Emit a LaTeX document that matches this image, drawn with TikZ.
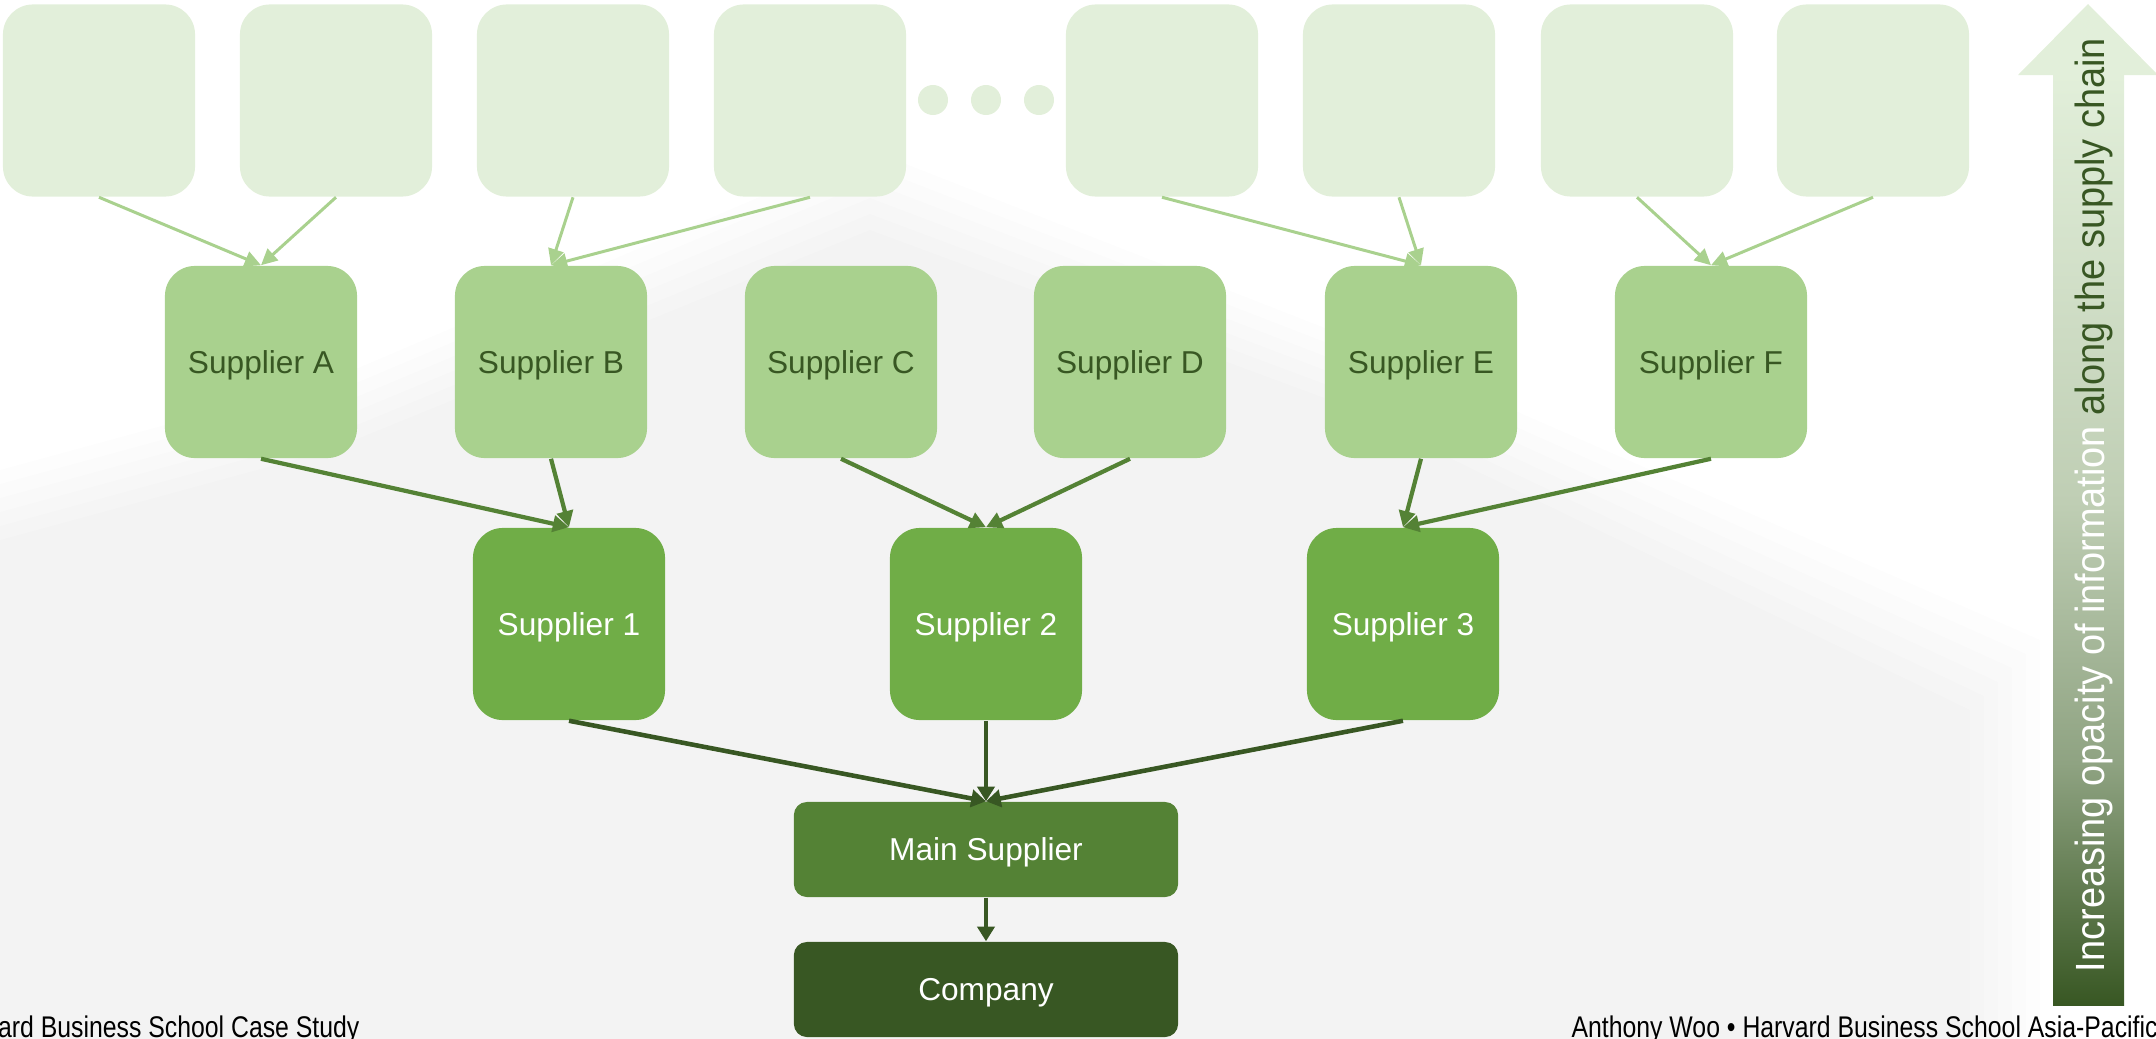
\documentclass[tikz,border=0pt]{standalone}
\usepackage{fontspec}
\setmainfont{Liberation Sans}
\usetikzlibrary{arrows.meta}

\definecolor{tierfour}{HTML}{E2EFDA}
\definecolor{tierthree}{HTML}{A9D18E}
\definecolor{tiertwo}{HTML}{70AD47}
\definecolor{tierone}{HTML}{548235}
\definecolor{companygreen}{HTML}{385723}
\definecolor{rampmidlow}{HTML}{8FA382}
\definecolor{rampmidhigh}{HTML}{BFCEB4}

% gradient of the opacity arrow: dark at the bottom, pale at the top
\pgfdeclareverticalshading{opacityramp}{100bp}{%
  color(0bp)=(companygreen); color(25bp)=(companygreen);
  color(38bp)=(rampmidlow); color(52bp)=(rampmidhigh);
  color(75bp)=(tierfour); color(100bp)=(tierfour)}

\tikzset{
  box/.style={rectangle, rounded corners=0.3cm, inner sep=0pt,
    minimum width=1.92cm, minimum height=1.92cm, draw=none,
    text depth=0pt, font=\fontsize{9}{11}\selectfont},
  unknownbox/.style={box, fill=tierfour},
  tierthreebox/.style={box, fill=tierthree, text=companygreen},
  tiertwobox/.style={box, fill=tiertwo, text=white},
  widebox/.style={rectangle, rounded corners=0.13cm, inner sep=0pt,
    minimum width=3.84cm, minimum height=0.95cm, draw=none, text=white,
    text depth=0pt, font=\fontsize{9}{11}\selectfont},
  lightlink/.style={draw=tierthree, line width=0.85pt,
    -{Triangle[length=4.6pt,width=4.4pt]}},
  midlink/.style={draw=tierone, line width=1.2pt,
    -{Triangle[length=4.6pt,width=4.6pt]}},
  darklink/.style={draw=companygreen, line width=1.3pt,
    -{Triangle[length=4.2pt,width=4.9pt]}},
  footer/.style={transform shape, xscale=0.83, text=black,
    font=\fontsize{8.5}{10}\selectfont, inner sep=0pt},
  dot/.style={circle, fill=tierfour, inner sep=0pt, minimum size=0.3cm}
}

\begin{document}
\begin{tikzpicture}[x=0.01cm, y=-0.01cm]
\useasboundingbox (0,0) rectangle (2156,1039);
\clip (0,0) rectangle (2156,1039);

% faint building photograph behind the chart, with soft edges
\foreach \k in {0,1,...,5}
  \fill[black, opacity=0.006]
    (0,470+14*\k) -- (330,380+14*\k) -- (870,150+16*\k) -- (1330,330+14*\k)
    -- (2040-14*\k,640+14*\k) -- (2040-14*\k,1039) -- (0,1039) -- cycle;

% unknown upstream suppliers
\foreach \n/\x in {1/99, 2/336, 3/573, 4/810, 5/1162, 6/1399, 7/1637, 8/1873}
  \node[unknownbox] (t\n) at (\x,100.5) {};
\node[dot] (dotA) at (933,100) {};
\node[dot] (dotB) at (986,100) {};
\node[dot] (dotC) at (1039,100) {};

% third-tier suppliers
\node[tierthreebox] (A) at (261,362) {Supplier A};
\node[tierthreebox] (B) at (551,362) {Supplier B};
\node[tierthreebox] (C) at (841,362) {Supplier C};
\node[tierthreebox] (D) at (1130,362) {Supplier D};
\node[tierthreebox] (E) at (1421,362) {Supplier E};
\node[tierthreebox] (F) at (1711,362) {Supplier F};

% second-tier suppliers
\node[tiertwobox] (S1) at (569,624) {Supplier 1};
\node[tiertwobox] (S2) at (986,624) {Supplier 2};
\node[tiertwobox] (S3) at (1403,624) {Supplier 3};

% first tier and the company
\node[widebox, fill=tierone] (main) at (986,849.5) {Main Supplier};
\node[widebox, fill=companygreen] (company) at (986,989.5) {Company};

% links
\foreach \s/\t in {t1/A, t2/A, t3/B, t4/B, t5/E, t6/E, t7/F, t8/F}
  \draw[lightlink] (\s.south) -- (\t.north);
\foreach \s/\t in {A/S1, B/S1, C/S2, D/S2, E/S3, F/S3}
  \draw[midlink] (\s.south) -- (\t.north);
\foreach \s in {S1, S2, S3}
  \draw[darklink] (\s.south) -- (main.north);
\draw[darklink] (main.south) -- (company.north);

% opacity arrow
\fill[tierfour] (2018,75) -- (2088,4) -- (2158,75) -- cycle;
\shade[shading=opacityramp] (2053,74) rectangle (2124,1005);
\node[transform shape, rotate=90, xscale=0.93, anchor=base, inner sep=0pt,
  font=\fontsize{11.6}{13}\selectfont] (opacitylabel) at (2104,505)
  {\textcolor{white}{Increasing opacity of information}
   \textcolor{companygreen}{along the supply chain}};

% footer
\node[footer, anchor=base east] (footleft) at (360,1037)
  {Harvard Business School Case Study};
\node[footer, anchor=base west] (footright) at (1571,1037)
  {Anthony Woo • Harvard Business School Asia-Pacific Research Center};
\end{tikzpicture}
\end{document}
